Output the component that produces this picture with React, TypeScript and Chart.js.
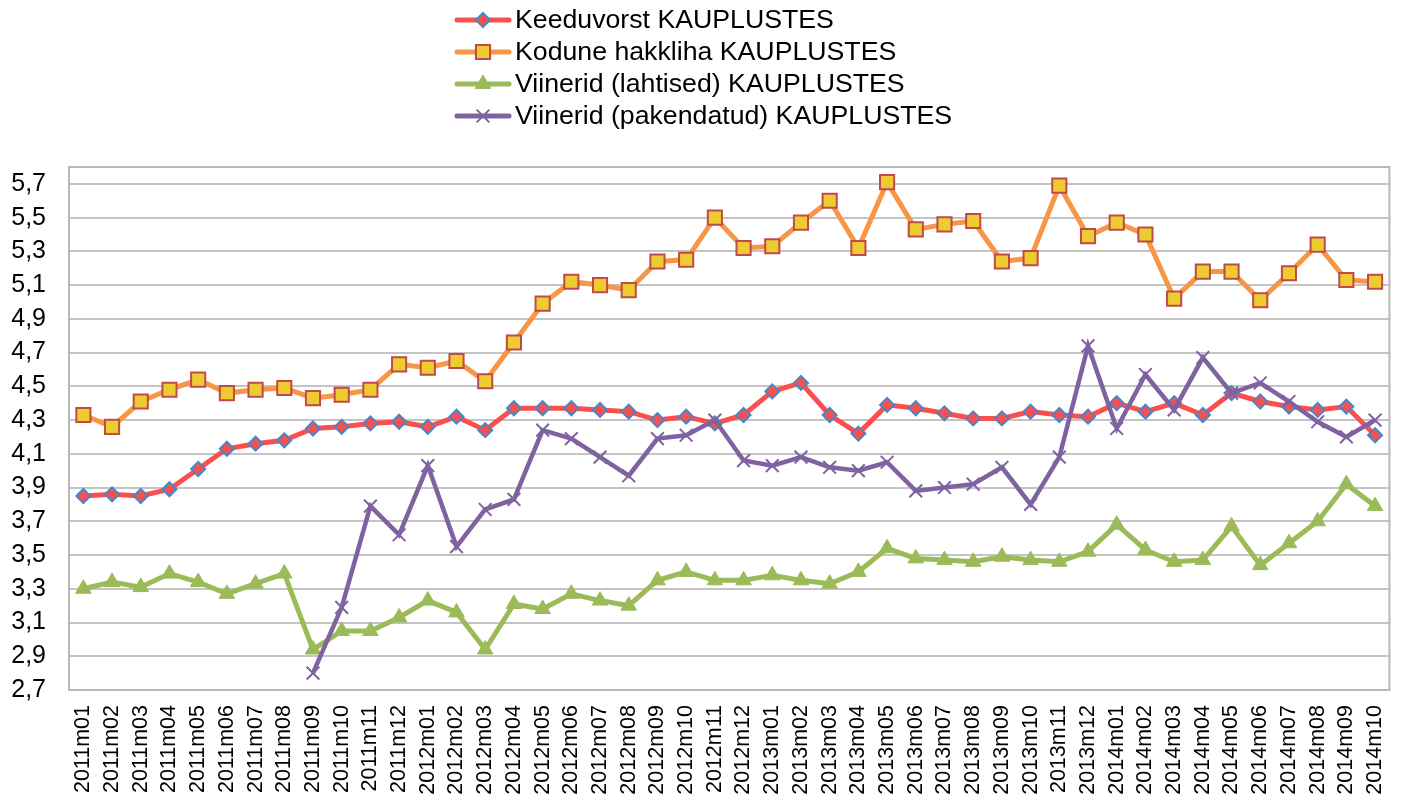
import React, { useEffect, useRef } from 'react';
import { Chart, registerables } from 'chart.js';
import * as helpers from 'chart.js/helpers';

Chart.register(...registerables);

const MONTHS = [
  '2011m01', '2011m02', '2011m03', '2011m04', '2011m05', '2011m06', '2011m07', '2011m08', '2011m09', '2011m10', '2011m11', '2011m12',
  '2012m01', '2012m02', '2012m03', '2012m04', '2012m05', '2012m06', '2012m07', '2012m08', '2012m09', '2012m10', '2012m11', '2012m12',
  '2013m01', '2013m02', '2013m03', '2013m04', '2013m05', '2013m06', '2013m07', '2013m08', '2013m09', '2013m10', '2013m11', '2013m12',
  '2014m01', '2014m02', '2014m03', '2014m04', '2014m05', '2014m06', '2014m07', '2014m08', '2014m09', '2014m10',
];

const KEEDUVORST = [
  3.85, 3.86, 3.85, 3.89, 4.01, 4.13, 4.16, 4.18, 4.25, 4.26, 4.28, 4.29,
  4.26, 4.32, 4.24, 4.37, 4.37, 4.37, 4.36, 4.35, 4.30, 4.32, 4.28, 4.33,
  4.47, 4.52, 4.33, 4.22, 4.39, 4.37, 4.34, 4.31, 4.31, 4.35, 4.33, 4.32,
  4.40, 4.35, 4.40, 4.33, 4.46, 4.41, 4.38, 4.36, 4.38, 4.21,
];

const HAKKLIHA = [
  4.33, 4.26, 4.41, 4.48, 4.54, 4.46, 4.48, 4.49, 4.43, 4.45, 4.48, 4.63,
  4.61, 4.65, 4.53, 4.76, 4.99, 5.12, 5.10, 5.07, 5.24, 5.25, 5.50, 5.32,
  5.33, 5.47, 5.60, 5.32, 5.71, 5.43, 5.46, 5.48, 5.24, 5.26, 5.69, 5.39,
  5.47, 5.40, 5.02, 5.18, 5.18, 5.01, 5.17, 5.34, 5.13, 5.12,
];

const VIINERID_LAHTISED = [
  3.30, 3.34, 3.31, 3.39, 3.34, 3.27, 3.33, 3.39, 2.94, 3.05, 3.05, 3.13,
  3.23, 3.16, 2.94, 3.21, 3.18, 3.27, 3.23, 3.20, 3.35, 3.40, 3.35, 3.35,
  3.38, 3.35, 3.33, 3.40, 3.54, 3.48, 3.47, 3.46, 3.49, 3.47, 3.46, 3.52,
  3.68, 3.53, 3.46, 3.47, 3.67, 3.44, 3.57, 3.70, 3.92, 3.79,
];

const VIINERID_PAKENDATUD = [
  null, null, null, null, null, null, null, null, 2.80, 3.19, 3.79, 3.62,
  4.03, 3.55, 3.77, 3.83, 4.24, 4.19, 4.08, 3.97, 4.19, 4.21, 4.30, 4.06,
  4.03, 4.08, 4.02, 4.00, 4.05, 3.88, 3.90, 3.92, 4.02, 3.80, 4.08, 4.74,
  4.25, 4.57, 4.36, 4.67, 4.46, 4.52, 4.41, 4.29, 4.20, 4.30,
];

const SERIES_LABELS = [
  'Keeduvorst KAUPLUSTES',
  'Kodune hakkliha KAUPLUSTES',
  'Viinerid (lahtised) KAUPLUSTES',
  'Viinerid (pakendatud) KAUPLUSTES',
];

const Y_TICKS = [2.7, 2.9, 3.1, 3.3, 3.5, 3.7, 3.9, 4.1, 4.3, 4.5, 4.7, 4.9, 5.1, 5.3, 5.5, 5.7];
const Y_MIN = 2.7;
const Y_MAX = 5.8;

const FONT = "'Liberation Sans', Arial, sans-serif";

const legendPlugin = {
  id: 'customLegend',
  afterDraw(chart: any) {
    const ctx = chart.ctx;
    const x0 = 457;
    const x1 = 509;
    const xm = 483;
    const textX = 515;
    chart.data.datasets.forEach((ds: any, i: number) => {
      const y = 20 + i * 32;
      ctx.save();
      ctx.strokeStyle = ds.borderColor;
      ctx.lineWidth = 5;
      ctx.lineCap = 'round';
      ctx.beginPath();
      ctx.moveTo(x0, y);
      ctx.lineTo(x1, y);
      ctx.stroke();
      ctx.fillStyle = ds.pointBackgroundColor;
      ctx.strokeStyle = ds.pointBorderColor;
      ctx.lineWidth = ds.pointBorderWidth;
      ctx.lineCap = 'butt';
      helpers.drawPoint(ctx, {
        pointStyle: ds.pointStyle,
        radius: ds.pointRadius,
        borderWidth: ds.pointBorderWidth,
        rotation: 0,
      }, xm, y);
      ctx.fillStyle = '#000';
      ctx.font = `26.7px ${FONT}`;
      ctx.textAlign = 'left';
      ctx.textBaseline = 'middle';
      ctx.fillText(ds.label, textX, y + 1);
      ctx.restore();
    });
  },
};

const borderPlugin = {
  id: 'plotBorder',
  beforeDatasetsDraw(chart: any) {
    const { ctx, chartArea } = chart;
    ctx.save();
    ctx.strokeStyle = '#b8b8b8';
    ctx.lineWidth = 2;
    ctx.strokeRect(chartArea.left, chartArea.top, chartArea.right - chartArea.left, chartArea.bottom - chartArea.top);
    ctx.restore();
  },
};

export default function App() {
  const canvasRef = useRef<HTMLCanvasElement | null>(null);

  useEffect(() => {
    if (!canvasRef.current) return;
    const chart = new Chart(canvasRef.current, {
      type: 'line',
      data: {
        labels: MONTHS,
        datasets: [
          {
            label: SERIES_LABELS[0],
            data: KEEDUVORST,
            borderColor: '#F9504F',
            borderWidth: 5,
            pointStyle: 'rectRot',
            pointRadius: 7,
            pointBackgroundColor: '#F9504F',
            pointBorderColor: '#4A86C5',
            pointBorderWidth: 2,
            tension: 0,
            order: 4,
          },
          {
            label: SERIES_LABELS[1],
            data: HAKKLIHA,
            borderColor: '#F79646',
            borderWidth: 5,
            pointStyle: 'rect',
            pointRadius: 10,
            pointBackgroundColor: '#EFCB32',
            pointBorderColor: '#BE4B48',
            pointBorderWidth: 2,
            tension: 0,
            order: 3,
          },
          {
            label: SERIES_LABELS[2],
            data: VIINERID_LAHTISED,
            borderColor: '#9BBB59',
            borderWidth: 5,
            pointStyle: 'triangle',
            pointRadius: 9,
            pointBackgroundColor: '#9BBB59',
            pointBorderColor: '#9BBB59',
            pointBorderWidth: 1,
            tension: 0,
            order: 2,
          },
          {
            label: SERIES_LABELS[3],
            data: VIINERID_PAKENDATUD,
            borderColor: '#7F63A1',
            borderWidth: 4.5,
            pointStyle: 'crossRot',
            pointRadius: 9,
            pointBackgroundColor: '#7F63A1',
            pointBorderColor: '#7F63A1',
            pointBorderWidth: 2,
            tension: 0,
            spanGaps: false,
            order: 1,
          },
        ],
      },
      options: {
        animation: false,
        responsive: true,
        maintainAspectRatio: false,
        layout: { padding: { top: 167, right: 12, left: 0, bottom: 0 } },
        plugins: {
          legend: { display: false },
          tooltip: { enabled: false },
          title: { display: false },
        },
        scales: {
          x: {
            offset: true,
            grid: { display: false, drawTicks: false },
            border: { display: false },
            ticks: {
              autoSkip: false,
              maxRotation: 90,
              minRotation: 90,
              padding: 15,
              color: '#000',
              font: { family: FONT, size: 21.5 },
            },
            afterFit: (scale: any) => {
              scale.height = 108;
            },
          },
          y: {
            min: Y_MIN,
            max: Y_MAX,
            grid: { color: '#c4c4c4', lineWidth: 2, drawTicks: false },
            border: { display: false },
            ticks: {
              padding: 23,
              color: '#000',
              font: { family: FONT, size: 25 },
              callback: (v: any) => Number(v).toFixed(1).replace('.', ','),
            },
            afterBuildTicks: (scale: any) => {
              scale.ticks = Y_TICKS.map((v) => ({ value: v }));
            },
            afterFit: (scale: any) => {
              scale.width = 69;
            },
          },
        },
      },
      plugins: [borderPlugin, legendPlugin],
    });
    return () => chart.destroy();
  }, []);

  return (
    <div style={{ position: 'fixed', left: 0, top: 0, width: '1416px', height: '798px', background: '#fff' }}>
      <canvas ref={canvasRef} />
    </div>
  );
}
